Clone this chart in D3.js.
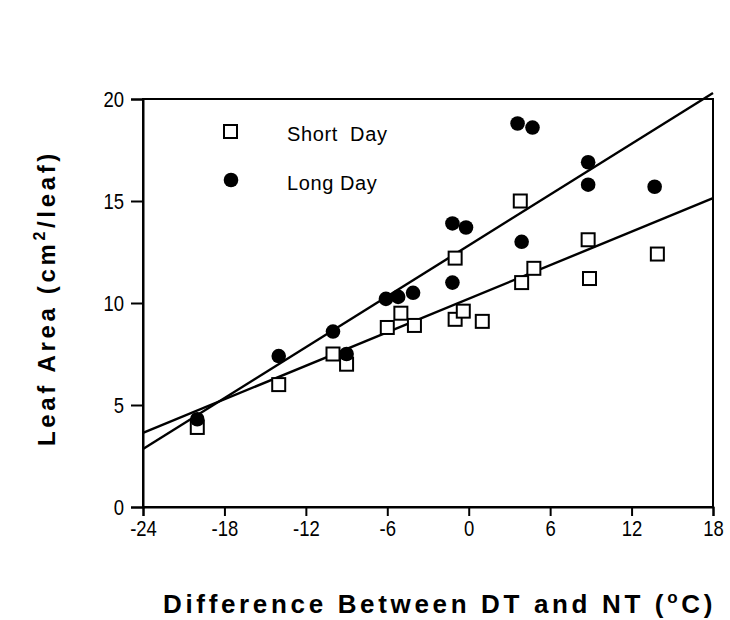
<!DOCTYPE html>
<html>
<head>
<meta charset="utf-8">
<script src="https://cdn.jsdelivr.net/npm/d3@7/dist/d3.min.js"></script>
<style>
  html, body { margin: 0; padding: 0; background: #fff; }
  svg { display: block; }
  text { font-family: "Liberation Sans", Arial, Helvetica, sans-serif; fill: #000; }
</style>
</head>
<body>
<svg id="chart" width="730" height="620"></svg>
<script>
// Leaf area vs. day/night temperature difference, two photoperiods
const xTicks = [-24, -18, -12, -6, 0, 6, 12, 18];
const yTicks = [0, 5, 10, 15, 20];

const shortDayDiff = [-20, -14, -10, -9, -6, -5, -4, -1, -0.4, 1, -1, 3.8, 3.9, 4.8, 8.8, 8.9, 13.9];
const shortDayArea = [3.9, 6.0, 7.5, 7.0, 8.8, 9.5, 8.9, 9.2, 9.6, 9.1, 12.2, 15.0, 11.0, 11.7, 13.1, 11.2, 12.4];

const longDayDiff = [-20, -14, -10, -9, -6.1, -5.2, -4.1, -1.2, -0.2, -1.2, 3.6, 4.7, 3.9, 8.8, 8.8, 13.7];
const longDayArea = [4.3, 7.4, 8.6, 7.5, 10.2, 10.3, 10.5, 13.9, 13.7, 11.0, 18.8, 18.6, 13.0, 16.9, 15.8, 15.7];

// fitted lines: [intercept, slope]
const shortDayFit = [10.21, 0.274];
const longDayFit = [12.82, 0.4155];

const svg = d3.select("#chart");
const x = d3.scaleLinear().domain([-24, 18]).range([143, 713]);
const y = d3.scaleLinear().domain([0, 20]).range([507, 99]);

// frame
svg.append("rect")
  .attr("x", x(-24)).attr("y", y(20))
  .attr("width", x(18) - x(-24)).attr("height", y(0) - y(20))
  .attr("fill", "none").attr("stroke", "#000").attr("stroke-width", 2);

// axes
const xAxis = svg.append("g")
  .attr("transform", `translate(0,${y(0)})`)
  .call(d3.axisBottom(x).tickValues(xTicks).tickSize(9).tickPadding(4).tickFormat(d3.format("d")));
const yAxis = svg.append("g")
  .attr("transform", `translate(${x(-24)},0)`)
  .call(d3.axisLeft(y).tickValues(yTicks).tickSize(12).tickPadding(7).tickFormat(d3.format("d")));

// tick labels in a tall, slightly condensed face
const sx = 0.88, sy = 1.05;
[xAxis, yAxis].forEach(g => {
  g.select(".domain").attr("stroke-width", 2);
  g.selectAll(".tick line").attr("stroke-width", 2);
  g.selectAll(".tick text")
    .attr("font-size", 21)
    .attr("font-family", "'Liberation Sans', Arial, sans-serif")
    .attr("transform", `scale(${sx},${sy})`);
});
xAxis.selectAll(".tick text").text(d => d < 0 ? "-" + Math.abs(d) : d);
yAxis.selectAll(".tick text").attr("x", -19 / sx).attr("dy", "0.34em");

// regression lines
const fitLine = d3.line().x(d => x(d[0])).y(d => y(d[1]));
[shortDayFit, longDayFit].forEach(f => {
  const pts = [-24, 18].map(v => [v, f[0] + f[1] * v]);
  svg.append("path").attr("d", fitLine(pts))
    .attr("fill", "none").attr("stroke", "#000").attr("stroke-width", 2.4);
});

// markers
const sq = 13;
svg.append("g").selectAll("rect")
  .data(d3.zip(shortDayDiff, shortDayArea))
  .join("rect")
  .attr("x", d => x(d[0]) - sq / 2).attr("y", d => y(d[1]) - sq / 2)
  .attr("width", sq).attr("height", sq)
  .attr("fill", "#fff").attr("stroke", "#000").attr("stroke-width", 2);

svg.append("g").selectAll("circle")
  .data(d3.zip(longDayDiff, longDayArea))
  .join("circle")
  .attr("cx", d => x(d[0])).attr("cy", d => y(d[1]))
  .attr("r", 7.3).attr("fill", "#000");

// legend
const legend = svg.append("g");
legend.append("rect").attr("x", 224).attr("y", 125).attr("width", 13).attr("height", 13)
  .attr("fill", "#fff").attr("stroke", "#000").attr("stroke-width", 2);
legend.append("circle").attr("cx", 231).attr("cy", 180).attr("r", 7.3).attr("fill", "#000");
legend.append("text").attr("x", 287).attr("y", 141).attr("font-size", 20).attr("letter-spacing", 0.6)
  .attr("xml:space", "preserve").text("Short  Day");
legend.append("text").attr("x", 287).attr("y", 190).attr("font-size", 20).attr("letter-spacing", 0.6)
  .text("Long Day");

// stretch a title to a given length via letter spacing
function fitLetters(t, target) {
  const n = t.text().length;
  const len = t.node().getComputedTextLength();
  t.attr("letter-spacing", ((target - len) / n).toFixed(2));
}

// x title
const xt = svg.append("text").attr("x", 163).attr("y", 613)
  .attr("font-size", 26).attr("font-weight", "bold");
xt.append("tspan").text("Difference Between DT and NT (");
xt.append("tspan").attr("font-size", 17).attr("dy", -10).text("o");
xt.append("tspan").attr("dy", 10).text("C)");
fitLetters(xt, 553);

// y title
const yt = svg.append("text")
  .attr("transform", "translate(55,298) rotate(-90)")
  .attr("text-anchor", "middle")
  .attr("font-size", 24).attr("font-weight", "bold");
yt.append("tspan").text("Leaf Area (cm");
yt.append("tspan").attr("font-size", 16).attr("dy", -10).text("2");
yt.append("tspan").attr("dy", 10).text("/leaf)");
fitLetters(yt, 296);
</script>
</body>
</html>
